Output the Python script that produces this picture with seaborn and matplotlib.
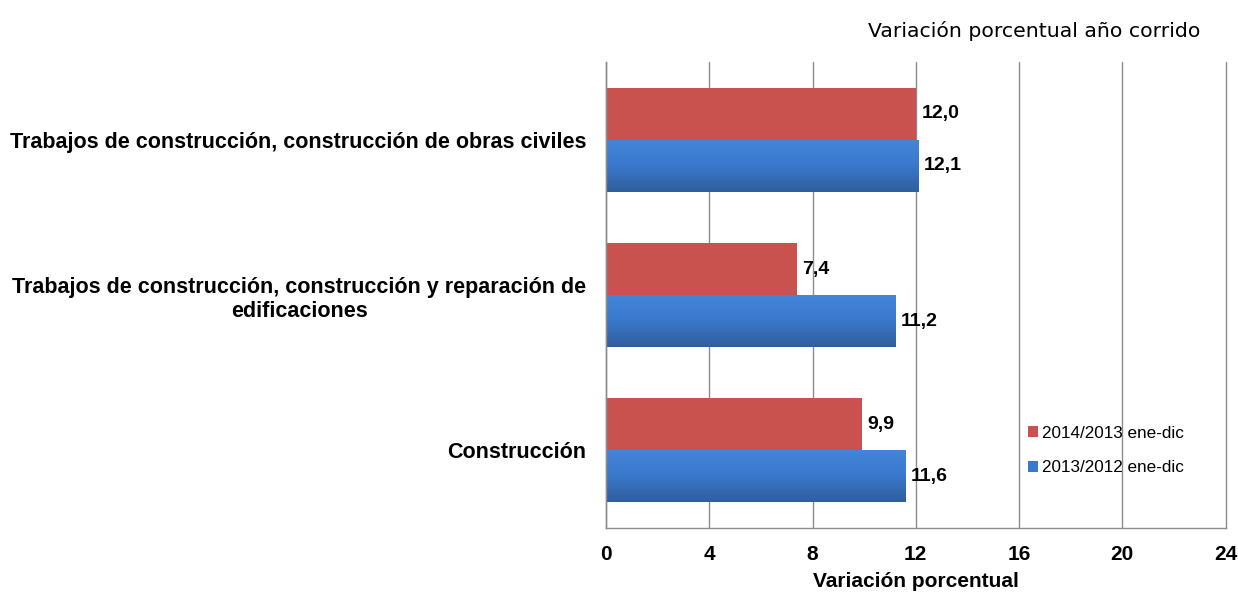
import matplotlib
matplotlib.use("Agg")
import matplotlib.pyplot as plt
from matplotlib.colors import LinearSegmentedColormap
import seaborn as sns
import pandas as pd
import numpy as np

categories = [
    "Trabajos de construcción, construcción de obras civiles",
    "Trabajos de construcción, construcción y reparación de\nedificaciones",
    "Construcción",
]
series_names = ["2014/2013 ene-dic", "2013/2012 ene-dic"]
values_2014 = [12.0, 7.4, 9.9]
values_2013 = [12.1, 11.2, 11.6]
x_ticks = [0, 4, 8, 12, 16, 20, 24]

df = pd.DataFrame({
    "categoria": categories * 2,
    "serie": [series_names[0]] * 3 + [series_names[1]] * 3,
    "valor": values_2014 + values_2013,
})

sns.set_style("white")
plt.rcParams["font.family"] = ["Liberation Sans", "DejaVu Sans"]
plt.rcParams["text.color"] = "black"
plt.rcParams["axes.labelcolor"] = "black"
plt.rcParams["xtick.color"] = "black"
plt.rcParams["ytick.color"] = "black"

fig = plt.figure(figsize=(12.38, 5.94), dpi=100)
ax = fig.add_axes([0.4895, 0.111, 0.5005, 0.7846])

palette = {series_names[0]: "#C9524F", series_names[1]: "#3A78CC"}
sns.barplot(data=df, x="valor", y="categoria", hue="serie", order=categories,
            hue_order=series_names, palette=palette, width=0.67,
            saturation=1, linewidth=0, ax=ax, legend=True)

# light-to-dark vertical shading on the blue bars, like the original
blue_grad = LinearSegmentedColormap.from_list("bg", ["#4287D9", "#3A78CC", "#2F5E9D"])
grad = np.linspace(0, 1, 64).reshape(-1, 1)
for p in ax.containers[1]:
    x0, y0 = p.get_x(), p.get_y()
    w, h = p.get_width(), p.get_height()
    im = ax.imshow(grad, cmap=blue_grad, aspect="auto", zorder=p.get_zorder() + 0.1,
                   extent=(x0, x0 + w, y0 + h, y0), origin="upper")
    im.set_clip_path(p)

for cont in ax.containers:
    labels = [f"{v:.1f}".replace(".", ",") for v in cont.datavalues]
    ax.bar_label(cont, labels=labels, padding=4, fontsize=14, fontweight="bold")

ax.set_xlim(0, 24)
ax.set_ylim(2.5, -0.5)
ax.set_xticks(x_ticks)
ax.set_xticklabels([str(t) for t in x_ticks], fontsize=15, fontweight="bold")
ax.xaxis.grid(True, color="#8c8c8c", linewidth=1)
for gl in ax.get_xgridlines():
    gl.set_clip_on(False)
ax.set_axisbelow(True)

ax.set_yticks([0, 1, 2])
ax.set_yticklabels(categories, fontsize=15.5, fontweight="bold")
for lab in ax.get_yticklabels():
    lab.set_multialignment("center")
ax.set_yticks([-0.5, 0.5, 1.5, 2.5], minor=True)
ax.tick_params(axis="y", which="major", length=0, pad=14)
ax.tick_params(axis="y", which="minor", length=5, color="#8c8c8c", direction="out")
ax.tick_params(axis="x", length=5, color="#8c8c8c", direction="out", pad=7)

for s in ["top", "right"]:
    ax.spines[s].set_visible(False)
for s in ["left", "bottom"]:
    ax.spines[s].set_color("#8c8c8c")
    ax.spines[s].set_linewidth(1)

ax.set_ylabel("")
ax.set_xlabel("Variación porcentual", fontsize=15, fontweight="bold", labelpad=6)

ax.legend(loc="lower left", bbox_to_anchor=(0.656, 0.08), frameon=False,
          fontsize=12.3, handlelength=0.6, handleheight=0.6, handletextpad=0.2,
          labelspacing=1.15)

fig.text(0.97, 0.937, "Variación porcentual año corrido", ha="right",
         fontsize=14.7, family="DejaVu Sans")

fig.savefig("out.png", dpi=100)
